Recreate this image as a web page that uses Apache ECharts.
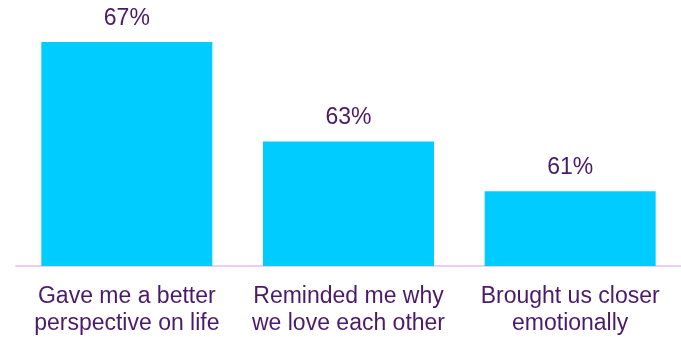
<!DOCTYPE html>
<html>
<head>
<meta charset="utf-8">
<script src="https://cdn.jsdelivr.net/npm/echarts@6/dist/echarts.min.js"></script>
<style>
  html, body { margin: 0; padding: 0; background: #ffffff; }
  #chart { width: 681px; height: 337px; }
</style>
</head>
<body>
<div id="chart"></div>
<script>
// Share of respondents for each statement
const categories = [
  'Gave me a better\nperspective on life',
  'Reminded me why\nwe love each other',
  'Brought us closer\nemotionally'
];
const values = [67, 63, 61];

const textColor = '#4b1a6b';
const fontFamily = '"Liberation Sans", Arial, sans-serif';

const chart = echarts.init(document.getElementById('chart'), null, { renderer: 'canvas' });
chart.setOption({
  animation: false,
  grid: { left: 16, right: 0, top: 42, bottom: 69, containLabel: false },
  xAxis: {
    type: 'category',
    data: categories,
    axisLine: { show: true, lineStyle: { color: '#e8cff7', width: 2 } },
    axisTick: { show: false },
    axisLabel: {
      color: textColor,
      fontFamily: fontFamily,
      fontSize: 23,
      lineHeight: 27,
      margin: 17,
      interval: 0
    }
  },
  yAxis: {
    type: 'value',
    min: 58,
    max: 67,
    show: false,
    splitLine: { show: false }
  },
  series: [{
    type: 'bar',
    data: values,
    barWidth: 171,
    itemStyle: { color: '#00ccff' },
    label: {
      show: true,
      position: 'top',
      distance: 12,
      formatter: '{c}%',
      color: textColor,
      fontFamily: fontFamily,
      fontSize: 23
    }
  }]
});
</script>
</body>
</html>
